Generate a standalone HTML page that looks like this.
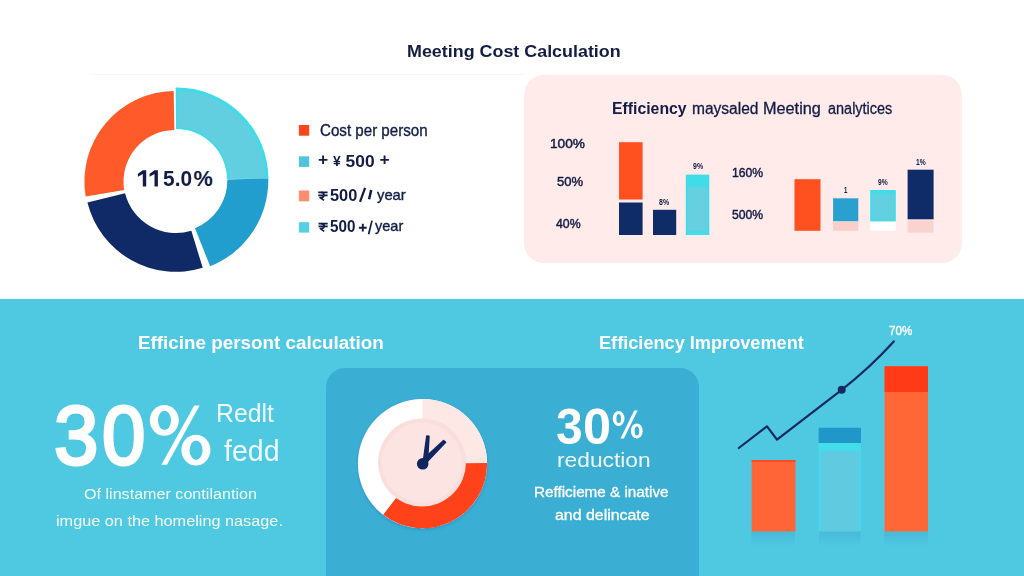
<!DOCTYPE html>
<html><head><meta charset="utf-8">
<style>
*{margin:0;padding:0;box-sizing:border-box}
html,body{width:1024px;height:576px;overflow:hidden;background:#fff}
body{font-family:"Liberation Sans",sans-serif;position:relative;color:#121c45}
.t{position:absolute;white-space:nowrap;line-height:1;transform-origin:0 0}
.w{color:#fff}
.b{font-weight:bold}
#bot{position:absolute;left:0;top:299px;width:1024px;height:277px;background:#4fc9e1}
#pink{position:absolute;left:524px;top:75px;width:438px;height:188px;border-radius:20px;background:#feebea}
#card{position:absolute;left:326px;top:368px;width:373.4px;height:215px;border-radius:19px 19px 0 0;background:#3baed4}
svg.main{position:absolute;left:0;top:0}
</style></head>
<body>
<div id="bot"></div>
<div id="pink"></div>
<div id="card"></div>
<svg class="main" width="1024" height="576" viewBox="0 0 1024 576">
<path d="M175.70,87.50 A92,92 0 0 1 268.49,178.38 L227.00,178.88 A50.5,50.5 0 0 0 176.06,129.00 Z" fill="#3edbe8"/>
<path d="M177.89,90.71 A88.8,88.8 0 0 1 265.29,178.42 L228.80,178.86 A52.3,52.3 0 0 0 177.32,127.21 Z" fill="#61cfe0"/>
<path d="M268.28,178.57 A92.3,92.3 0 0 1 210.13,266.26 L194.97,228.16 A51.3,51.3 0 0 0 227.29,179.43 Z" fill="#229ece"/>
<path d="M202.69,267.81 A91.3,91.3 0 0 1 87.41,202.59 L125.06,193.20 A52.5,52.5 0 0 0 191.35,230.71 Z" fill="#0f2a66"/>
<path d="M85.64,196.45 A90.6,90.6 0 0 1 173.74,90.91 L174.28,130.01 A51.5,51.5 0 0 0 124.21,190.00 Z" fill="#ff5a2a"/>
<rect x="619" y="142.2" width="23.60" height="57.30" fill="#ff501f" />
<rect x="619" y="202.5" width="23.60" height="32.50" fill="#102c68" />
<rect x="653" y="209.8" width="23.20" height="25.20" fill="#102c68" />
<rect x="685.8" y="174.6" width="23.50" height="60.40" fill="#40dce8" />
<rect x="687.6" y="187" width="20.00" height="44.00" fill="#66cfe0" />
<rect x="794.5" y="179.2" width="26.00" height="51.60" fill="#ff501f" />
<rect x="833.1" y="198.3" width="25.20" height="23.00" fill="#2aa0cf" />
<rect x="833.1" y="222" width="25.20" height="8.80" fill="#f9cfc9" />
<rect x="870.2" y="190" width="25.60" height="31.30" fill="#40dce8" />
<rect x="872" y="194" width="22.00" height="25.50" fill="#62d0e1" />
<rect x="870.2" y="222" width="25.60" height="8.80" fill="#ffffff" />
<rect x="907.6" y="169.7" width="26.00" height="49.60" fill="#102c68" />
<rect x="907.6" y="220.5" width="26.00" height="12.20" fill="#f9d3cf" />
<circle cx="422.5" cy="463.6" r="64.6" fill="#ffffff" filter="url(#sh)"/>
<path d="M422.50,399.00 A64.6,64.6 0 0 1 487.10,463.04 L462.50,463.25 A40,40 0 0 0 422.50,423.60 Z" fill="#fde8e6"/>
<path d="M487.10,463.04 A64.6,64.6 0 0 1 383.17,514.85 L398.15,495.33 A40,40 0 0 0 462.50,463.25 Z" fill="#ff4219"/>
<circle cx="422" cy="462.5" r="44" fill="#f9dedb"/>
<circle cx="422" cy="462.5" r="40" fill="#fce4e2"/>
<path d="M423.3,461.5 L426.8,436 L429.0,436.2 L427.5,461.5 Z" fill="#11265f" stroke="#11265f" stroke-width="1.5" stroke-linejoin="round"/>
<path d="M424.2,458.4 L443.6,440.5 L445.6,442.3 L427.8,461 Z" fill="#11265f" stroke="#11265f" stroke-width="1.5" stroke-linejoin="round"/>
<circle cx="422.7" cy="463.8" r="5.8" fill="#11265f"/>
<rect x="751.7" y="460" width="43.80" height="71.50" fill="#ff6536" />
<rect x="751.7" y="460" width="43.80" height="2.00" fill="#ff4a22" />
<rect x="818.6" y="427.7" width="42.40" height="103.80" fill="#43dcea" />
<rect x="820.4" y="451" width="39.20" height="80.50" fill="#60cbe0" />
<rect x="818.6" y="427.7" width="42.40" height="15.30" fill="#2196c9" />
<rect x="884.6" y="366.3" width="43.40" height="165.20" fill="#ff6836" />
<rect x="884.6" y="366.3" width="43.40" height="25.70" fill="#ff3a17" />
<defs><linearGradient id="rf" x1="0" y1="0" x2="0" y2="1"><stop offset="0" stop-color="#3f9fcc" stop-opacity="0.38"/><stop offset="1" stop-color="#3f9fcc" stop-opacity="0"/></linearGradient></defs>
<rect x="751.5" y="531.5" width="43.50" height="15.50" fill="url(#rf)" />
<rect x="819" y="531.5" width="41.60" height="15.50" fill="url(#rf)" />
<rect x="884" y="531.5" width="44.00" height="15.50" fill="url(#rf)" />
<rect x="90" y="74" width="434" height="1" fill="#f5f6f8"/>
<path d="M738.8,448 L767,426.3 L777,439.7 L841.7,389.8 Q870.3,367.3 893.8,341.4" fill="none" stroke="#142a63" stroke-width="2.2" stroke-linejoin="round" stroke-linecap="round"/>
<circle cx="841.7" cy="389.8" r="4" fill="#142a63"/>
<rect x="298.9" y="125" width="10.30" height="10.70" fill="#ff431a" />
<rect x="298.9" y="156.3" width="10.30" height="10.60" fill="#50c4dd" />
<rect x="298.9" y="190.5" width="10.30" height="10.80" fill="#ff8c6f" />
<rect x="298.9" y="222.2" width="10.30" height="10.40" fill="#50d2e3" />
<g fill="none" stroke="#121c45" stroke-width="1.7" stroke-linejoin="round"><path d="M318.2,192.45H327.59999999999997M318.2,195.28H327.59999999999997"/><path d="M321.02,192.45C324.97,192.45 324.97,197.49 321.02,197.49H320.08L324.03,200.40"/></g>
<g fill="none" stroke="#121c45" stroke-width="1.7" stroke-linejoin="round"><path d="M318.5,223.65H327.7M318.5,226.40H327.7"/><path d="M321.26,223.65C325.12,223.65 325.12,228.56 321.26,228.56H320.34L324.20,231.40"/></g>
<path d="M369.1,199.3L371.2,190.0" stroke="#121c45" stroke-width="2.5"/>
<path d="M360,201.8L365.1,187.8" stroke="#121c45" stroke-width="2.2"/>
<path d="M358.9,227.7H366.7M362.8,223.7V231.6" stroke="#121c45" stroke-width="1.9" fill="none"/>
<path d="M368.6,234.2L372,220.6" stroke="#121c45" stroke-width="1.7"/>
<path d="M142.8,170.25L146.2,170.25L146.2,186.6L142.8,186.6L142.8,173.95L137.9,176.75L137.9,173.85Z" fill="#121c45"/>
<path d="M154.5,170.25L157.9,170.25L157.9,186.6L154.5,186.6L154.5,173.95L149.6,176.75L149.6,173.85Z" fill="#121c45"/>
<defs><filter id="sh" x="-20%" y="-20%" width="140%" height="140%"><feDropShadow dx="0" dy="1.5" stdDeviation="1.6" flood-color="#2381b8" flood-opacity="0.55"/></filter></defs>
<g fill="#fff"><ellipse cx="164.3" cy="420.3" rx="14.5" ry="15.4"/><ellipse cx="195.9" cy="450.1" rx="14.5" ry="15.4"/></g>
<g fill="#4fc9e1"><ellipse cx="164.5" cy="420.4" rx="6.5" ry="9.7"/><ellipse cx="196.1" cy="450.2" rx="6.5" ry="9.7"/></g>
<path d="M194.2,405.6H199.6L167.0,464.8H161.4Z" fill="#fff"/>
<g fill="#fff"><ellipse cx="618.6" cy="418.5" rx="5.9" ry="7.5"/><ellipse cx="636.8" cy="430.9" rx="5.9" ry="7.5"/></g>
<g fill="#3baed4"><ellipse cx="618.7" cy="418.6" rx="2.3" ry="4.6"/><ellipse cx="636.9" cy="431.0" rx="2.3" ry="4.6"/></g>
<path d="M634.2,410.6H637.6L623.9,438.5H620.5Z" fill="#fff"/>
</svg>
<div class="t" id="title" style="left:406.77px;top:43.27px;font-size:17.4px;font-weight:bold;transform:scaleX(1.0286)">Meeting Cost Calculation</div>
<div class="t" id="pct5" style="left:162.60px;top:168.13px;font-size:21.7px;font-weight:bold;transform:scaleX(0.9639)">5.0</div>
<div class="t" id="pctp" style="left:193.40px;top:168.13px;font-size:21.7px;font-weight:bold;transform:scaleX(1.0000)">%</div>
<div class="t" id="lg1" style="left:319.77px;top:122.76px;font-size:16px;-webkit-text-stroke:0.35px #121c45;transform:scaleX(0.9454)">Cost per person</div>
<div class="t" id="lg2" style="left:317.53px;top:152.64px;font-size:17.2px;font-weight:bold;transform:scaleX(1.0109)"><span style="position:relative;top:-1.4px">+</span> <span style="font-size:0.8em;position:relative;top:-0.03em">¥</span> 500 <span style="position:relative;top:-1.4px">+</span></div>
<div class="t" id="lg3b" style="left:329.90px;top:187.76px;font-size:16px;font-weight:bold;transform:scaleX(1.0225)">500</div>
<div class="t" id="lg3d" style="left:376.77px;top:188.27px;font-size:14.8px;-webkit-text-stroke:0.35px #121c45;transform:scaleX(0.9998)">year</div>
<div class="t" id="lg4b" style="left:329.70px;top:219.26px;font-size:16px;font-weight:bold;transform:scaleX(0.9516)">500</div>
<div class="t" id="lg4d" style="left:375.17px;top:219.47px;font-size:14.8px;-webkit-text-stroke:0.35px #121c45;transform:scaleX(0.9826)">year</div>
<div class="t" id="pt1" style="left:612.20px;top:101.33px;font-size:15.8px;font-weight:bold;transform:scaleX(0.9994)">Efficiency</div>
<div class="t" id="pt2" style="left:692.36px;top:101.33px;font-size:15.8px;-webkit-text-stroke:0.3px #121c45;transform:scaleX(0.9830)">maysaled</div>
<div class="t" id="pt3" style="left:763.13px;top:101.33px;font-size:15.8px;-webkit-text-stroke:0.3px #121c45;transform:scaleX(1.0290)">Meeting</div>
<div class="t" id="pt4" style="left:827.84px;top:101.33px;font-size:15.8px;-webkit-text-stroke:0.3px #121c45;transform:scaleX(0.9158)">analytices</div>
<div class="t" id="a1" style="left:550.32px;top:136.59px;font-size:13.6px;-webkit-text-stroke:0.45px #121c45;transform:scaleX(1.0050)">100%</div>
<div class="t" id="a2" style="left:557.43px;top:174.60px;font-size:13px;-webkit-text-stroke:0.45px #121c45;transform:scaleX(1.0071)">50%</div>
<div class="t" id="a3" style="left:556.41px;top:217.00px;font-size:13px;-webkit-text-stroke:0.45px #121c45;transform:scaleX(0.9439)">40%</div>
<div class="t" id="a4" style="left:732.41px;top:166.30px;font-size:13px;-webkit-text-stroke:0.45px #121c45;transform:scaleX(0.9373)">160%</div>
<div class="t" id="a5" style="left:732.41px;top:207.80px;font-size:13px;-webkit-text-stroke:0.45px #121c45;transform:scaleX(0.9373)">500%</div>
<div class="t" id="s1" style="left:692.70px;top:161.46px;font-size:9.5px;font-weight:bold;transform:scaleX(0.7351)">9%</div>
<div class="t" id="s2" style="left:658.70px;top:196.96px;font-size:9.5px;font-weight:bold;transform:scaleX(0.7351)">8%</div>
<div class="t" id="s3" style="left:915.90px;top:157.46px;font-size:9.5px;font-weight:bold;transform:scaleX(0.7071)">1%</div>
<div class="t" id="s4" style="left:878.30px;top:176.76px;font-size:9.5px;font-weight:bold;transform:scaleX(0.7071)">9%</div>
<div class="t" id="s5" style="left:843.70px;top:184.96px;font-size:9.5px;font-weight:bold;transform:scaleX(0.6333)">1</div>
<div class="t" id="h1" style="left:138.20px;top:334.29px;font-size:18.8px;font-weight:bold;color:#fff;transform:scaleX(1.0022)">Efficine persont calculation</div>
<div class="t" id="h2" style="left:599.43px;top:333.89px;font-size:18.8px;font-weight:bold;color:#fff;transform:scaleX(0.9668)">Efficiency Improvement</div>
<div class="t" id="big3" style="left:54.15px;top:393.56px;font-size:82.5px;color:#fff;-webkit-text-stroke:3px #fff;transform:scaleX(0.9674)">3</div>
<div class="t" id="big0" style="left:101.78px;top:393.56px;font-size:82.5px;color:#fff;-webkit-text-stroke:3px #fff;transform:scaleX(0.9442)">0</div>
<div class="t" id="r1" style="left:216.09px;top:399.69px;font-size:26px;color:rgba(255,255,255,.9);transform:scaleX(0.9534)">Redlt</div>
<div class="t" id="r2" style="left:223.60px;top:436.85px;font-size:29px;color:rgba(255,255,255,.9);transform:scaleX(0.9835)">fedd</div>
<div class="t" id="p1" style="left:84.40px;top:485.96px;font-size:15.4px;color:rgba(255,255,255,.93);transform:scaleX(1.0472)">Of linstamer contilantion</div>
<div class="t" id="p2" style="left:56.14px;top:512.76px;font-size:15.4px;color:rgba(255,255,255,.93);transform:scaleX(1.0565)">imgue on the homeling nasage.</div>
<div class="t" id="c3a" style="left:556.06px;top:401.70px;font-size:50.8px;font-weight:bold;color:#fff;transform:scaleX(0.9423)">3</div>
<div class="t" id="c3b" style="left:582.72px;top:401.70px;font-size:50.8px;font-weight:bold;color:#fff;transform:scaleX(0.9920)">0</div>
<div class="t" id="c2" style="left:557.12px;top:449.12px;font-size:21px;color:rgba(255,255,255,.92);transform:scaleX(1.0837)">reduction</div>
<div class="t" id="c3" style="left:534.11px;top:484.73px;font-size:14.5px;color:#fff;-webkit-text-stroke:0.3px #fff;transform:scaleX(1.0526)">Refficieme &amp; inative</div>
<div class="t" id="c4" style="left:555.46px;top:508.03px;font-size:14.5px;color:#fff;-webkit-text-stroke:0.3px #fff;transform:scaleX(1.0971)">and delincate</div>
<div class="t" id="l70" style="left:888.79px;top:325.42px;font-size:12.5px;color:#fff;-webkit-text-stroke:0.4px #fff;transform:scaleX(0.9287)">70%</div>
</body></html>
